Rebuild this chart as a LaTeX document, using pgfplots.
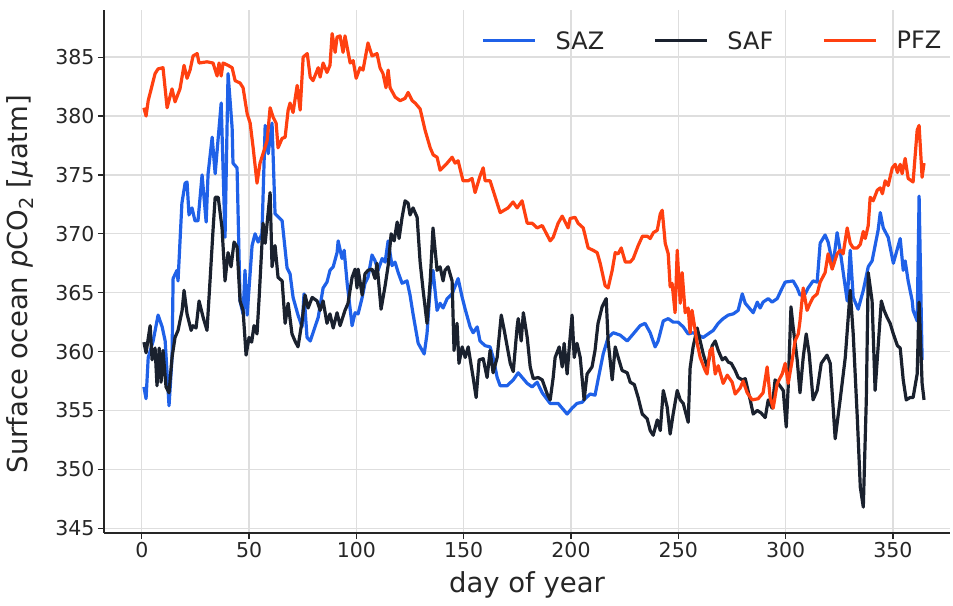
\documentclass[border=0pt]{standalone}
\usepackage{fontspec}
\setmainfont{DejaVu Sans}
\usepackage{pgfplots}
\pgfplotsset{compat=1.18}

\definecolor{sazblue}{RGB}{31,97,232}
\definecolor{safdark}{RGB}{26,33,46}
\definecolor{pfzred}{RGB}{255,64,16}
\definecolor{spine}{RGB}{38,38,38}
\definecolor{gridgray}{RGB}{222,222,222}

\pgfplotstableread{
day pco2
1 357.0
2 356.0
3 359.5
5.3 360.9
7.6 363.1
9.5 362.1
10.9 360.9
12.7 355.4
14.1 359.5
14.6 366.2
16.4 366.9
16.9 366.0
18.7 372.6
20.2 374.3
21.1 374.4
22 371.6
23.4 372.2
24.8 371.1
26.2 371.1
28.1 375.0
30 371.0
30.9 375.1
32.8 378.2
34.2 375.1
37 381.1
38.8 369.7
40.2 383.6
42.1 379.0
42.5 376.0
44.4 375.6
45.8 364.3
47.2 363.2
48.1 366.9
49.1 363.1
51.4 369.0
52.8 370.0
54.2 369.3
56 370.0
57.5 379.2
58.9 376.8
60.7 379.4
62.1 371.7
65.4 371.1
67.7 367.1
69.1 366.6
70.5 364.6
72.8 363.1
74.7 362.1
75.6 364.9
77 361.2
78.5 360.9
79.8 361.6
82.2 362.9
84.5 365.4
86.3 365.9
87.7 366.9
89.2 367.2
91 368.4
91.5 369.4
93.3 367.9
94.3 368.6
95.7 365.8
98 362.2
99.4 363.3
100.8 363.2
102.7 364.6
104 365.8
105.4 366.3
107.3 368.2
108.7 367.7
110.1 366.9
112 367.9
113.4 367.6
114.8 369.4
116.6 367.3
118 367.6
119.5 366.7
121.3 365.8
123.6 366.0
125 364.8
126.4 363.2
128.8 360.7
131.6 359.8
132.9 361.5
134.4 365.4
135.7 366.9
137.6 363.5
139 364.1
140.4 363.7
142.3 364.5
144.6 364.9
147.4 366.2
149.3 364.6
150.7 363.6
153 362.1
154.4 361.6
156.3 362.1
157.6 360.9
160 360.5
162.3 360.4
163.7 359.5
165.6 357.8
167 357.1
170.2 357.1
173.1 357.6
175.4 358.2
179.6 357.3
181.9 357.0
184.2 357.4
186.6 356.5
190.3 355.6
194 355.6
198.2 354.7
200.5 355.2
202.8 355.6
205.2 355.7
206.6 356.0
208.9 356.4
211.2 356.3
212.6 357.6
215 359.8
217.3 361.2
219.7 361.6
222.9 361.4
226.2 360.9
229 361.5
232.2 362.2
234.5 362.4
236.9 361.6
239.2 360.4
240.6 360.9
243 362.6
245.3 362.8
247.6 362.5
249.9 362.5
252.3 362.1
254.6 361.5
256.9 361.6
259.3 361.4
261.6 361.2
263.9 361.5
266.3 361.8
268.6 362.4
270.9 362.8
273.3 363.1
275.6 363.2
277.9 363.5
279.8 364.9
281.2 364.1
284.9 363.3
286.8 364.2
288.1 363.7
289.5 364.2
291.9 364.5
293.7 364.2
296.1 364.5
298.4 365.4
299.8 365.9
303.5 366.0
305.4 365.4
306.7 364.8
309.1 364.9
310.5 365.4
312.8 366.0
314.7 365.9
316.1 369.2
318.4 369.9
319.8 369.3
322.1 367.3
324 370.1
325.4 368.6
328.7 364.3
330.1 368.6
331.5 364.6
333.8 363.6
336.2 365.2
338.5 367.2
340.3 367.7
343.1 370.3
344.1 371.8
345.5 370.5
347.8 369.7
350.2 367.5
353.4 369.6
354.8 366.9
355.7 367.7
357.1 366.0
359 364.3
359.4 363.5
361.3 362.6
362.2 373.2
363.6 359.3
}\saz

\pgfplotstableread{
day pco2
1 360.8
2 359.9
3.9 362.2
4.8 359.3
6.2 360.3
7.1 357.1
8.1 360.3
9 357.4
9.9 360.1
11.3 357.0
12.7 356.5
14.1 359.5
15.5 361.2
16.9 361.8
18.8 363.5
19.7 365.2
21.1 363.2
23 361.8
23.9 362.2
25.3 362.0
26.7 364.3
28.6 362.9
30.4 361.8
31.8 366.0
33.2 370.3
34.2 373.1
35.6 373.1
37.4 370.5
38.8 366.0
40.2 368.4
41.6 367.2
43 369.3
44.4 368.9
45.8 364.3
47.2 363.5
48.6 359.7
50 361.2
51.2 360.8
52.3 362.2
53.7 361.5
54.7 364.6
56.5 370.9
57.5 369.2
59.8 373.5
60.7 367.2
62.1 369.0
63.5 366.3
65.4 366.0
66.8 362.4
68.2 364.1
70.0 361.5
71.4 360.9
72.8 360.4
74.7 362.6
76.1 364.8
77.5 363.7
79.4 364.6
81.7 364.3
83.1 363.5
84.5 364.3
86.3 362.4
87.7 363.2
89.2 362.0
91 363.3
92.4 362.2
94.7 363.5
96.1 364.1
98 366.3
99.4 367.0
100.3 365.4
100.8 367.0
102.7 364.8
104 366.6
105.4 366.9
107.3 367.0
108.7 366.2
109.6 367.5
111.5 363.6
113.4 365.6
114.8 367.3
116.2 370.0
117.6 369.4
119 371.0
119.9 369.6
121.3 371.4
122.7 372.8
124.1 372.6
125 371.6
126.4 372.2
128.3 371.4
129.7 367.6
131.1 365.2
132.9 362.4
134.4 366.0
135.7 370.5
137.6 366.9
139 367.2
140.4 366.0
141.3 366.9
142.7 367.2
144.6 366.0
145.5 360.1
146.9 362.4
147.8 359.0
149.3 360.4
150.7 359.5
152.1 360.4
154.4 357.8
155.8 356.1
157.2 359.3
159.1 359.4
160.9 357.8
162.3 360.1
163.7 358.2
165.6 359.5
167.5 363.1
168.9 361.8
170.2 360.5
171.7 359.0
173.1 358.3
174.9 362.1
175.4 362.8
176.8 360.9
177.8 363.3
179.6 361.2
181 358.7
182.4 357.7
184.7 357.8
186.6 357.6
188.9 356.4
190.3 355.9
191.7 357.8
192.6 359.5
194.5 360.4
195.9 358.7
196.8 360.7
198.2 358.1
199.2 360.4
200.5 363.1
201.5 359.5
202.8 360.7
204.3 359.5
206.1 355.9
207.5 358.1
209.8 358.7
211.2 360.1
212.6 362.4
214.5 363.8
216.4 364.5
217.3 360.9
219.2 357.6
220.6 360.4
222 359.5
223.8 358.4
226.2 358.2
227.6 357.4
229.5 357.2
231.3 356.1
233.2 354.7
235.5 354.3
236.9 353.3
238.3 352.9
240.2 354.2
241.6 353.3
243 356.7
244.8 355.3
246.2 353.0
247.6 354.7
249.5 356.7
250.9 355.9
252.3 355.6
254.6 354.0
255.5 358.6
256.9 360.4
258.8 362.0
260.2 360.9
261.6 359.8
263.4 358.7
265.8 360.5
267.2 360.9
268.6 360.1
270.5 359.3
271.9 359.5
273.3 359.1
274.7 359.0
276.5 358.4
277.9 357.8
279.8 357.6
281.2 357.7
283.5 355.9
284.9 354.7
286.8 355.0
288.5 354.8
290.5 354.4
291.9 355.9
293.7 355.2
295.1 357.6
296.5 357.3
298.9 356.7
300.3 353.6
301.2 357.0
302.5 363.8
303.5 362.1
305.4 359.3
306.7 356.5
308.2 359.5
309.6 361.5
311 359.8
312.8 355.9
314.7 356.7
316.6 359.0
319.3 359.7
320.8 359.0
323.1 352.6
325.4 355.9
327.8 359.5
330.1 365.2
331.5 361.5
333.4 354.4
334.8 348.5
336.2 346.8
337.6 355.9
338.5 366.7
340.3 364.3
341.7 356.7
343.1 360.4
344.6 364.3
345.9 363.5
347.3 362.9
348.7 362.4
350.2 361.5
352.1 360.5
353.4 360.3
354.8 357.6
356.2 355.9
358 356.1
359.4 356.1
361.3 358.1
362.2 364.2
363.6 357.3
364.5 355.9
}\saf

\pgfplotstableread{
day pco2
1 380.7
2 380.0
3 381.3
6.2 383.6
7.6 384.0
9.9 384.1
11.8 380.7
14.1 382.3
15.5 381.2
17.8 382.3
19.7 384.3
21.1 383.2
22.5 383.9
23.9 385.1
25.8 385.3
26.7 384.5
30.4 384.6
33.2 384.5
35.1 383.4
36 384.5
37 383.4
37.9 384.5
40.2 384.3
42.1 384.1
43.5 383.0
45.8 382.8
47.2 382.4
49.1 380.2
50.5 379.4
51.9 377.3
53.7 374.3
55.1 376.0
56.5 376.8
58.4 377.9
59.8 380.7
61.2 379.9
62.6 379.4
63.5 377.3
65.4 378.1
66.8 378.2
68.2 380.5
69.1 381.1
70.5 380.3
72.4 382.6
73.8 380.5
75.2 385.0
77.1 385.3
78.5 383.3
79.8 383.0
82.2 384.1
83.1 383.3
84.5 384.5
86.3 383.7
87.7 384.3
88.7 387.0
90.1 385.4
91.0 386.7
92.4 386.8
93.8 385.4
94.7 386.8
97.1 384.5
98.5 384.7
99.9 383.2
101.7 384.1
103.1 383.9
105.4 386.2
107.3 385.1
109.6 385.3
111.0 384.1
112.4 383.6
113.8 382.4
114.8 383.9
115.7 382.4
118.1 381.6
120.4 381.3
122.7 381.5
124.1 382.0
126 381.3
127.4 381.1
129.7 380.6
132 378.8
134.4 377.3
135.8 376.7
137.6 376.5
139 375.4
142.3 376.0
144.6 376.5
146 376.0
147.4 376.2
149.7 374.5
152.1 374.5
153.9 374.7
155.3 373.5
157.6 374.9
159.1 375.6
160 374.5
162.3 374.5
165.6 372.6
167 371.8
170.7 372.2
173 372.7
174.9 372.2
177.2 372.8
179.6 370.9
181.9 370.9
184.2 370.5
186.6 370.7
190.3 369.4
191.7 369.7
194 370.9
195.9 371.5
197.3 371.0
198.7 370.5
199.6 371.3
201.9 371.4
203.3 370.9
205.7 370.5
208 368.8
210.3 368.6
212.2 368.4
213.6 367.5
215.9 365.6
217.3 365.4
219.2 366.9
220.6 368.4
222 368.3
223.4 368.8
225.3 367.6
227.6 367.6
229 367.9
231.3 369.0
233.3 369.8
235.5 369.8
236.9 369.6
238.4 370.1
240.2 370.3
241.6 371.7
242.5 372.0
243.9 369.2
245.3 368.3
246.2 365.5
247.1 365.8
248.5 363.3
249.5 368.6
250.9 364.1
251.8 366.7
253.2 363.3
254.6 363.7
255.5 361.6
256.4 363.5
258.8 360.7
260.2 359.5
262.5 358.4
263.4 358.1
264.8 360.1
265.8 360.3
267.2 358.1
268.6 358.8
270.9 357.3
272.8 358.0
275.1 357.4
276.5 356.4
278.8 356.9
280.2 357.5
282.1 356.5
284.4 355.9
287.2 356.0
289.5 356.5
291.4 358.7
292.8 356.1
294.2 355.2
296.1 357.3
298.4 358.1
299.8 359.0
301.2 357.3
303 359.2
304.4 360.9
305.9 361.5
306.7 362.6
308.2 365.4
310 363.5
311.4 364.1
312.8 364.6
314.7 364.9
316.1 365.9
318.4 366.7
319.8 368.3
321.7 367.0
324 368.3
325.4 368.6
326.8 368.3
328.7 370.5
330.1 369.2
331.5 368.8
333.4 368.8
334.8 369.1
336.2 370.2
337.1 369.6
338.5 370.7
339.4 373.1
340.8 372.8
342.7 373.7
344.1 373.9
345.1 373.4
346.4 374.5
347.8 374.1
349.7 375.6
351.1 375.9
352.1 375.2
353.4 375.9
354.3 375.1
355.7 376.4
357.1 374.7
359.4 374.4
361.3 378.8
362.2 379.2
363.6 374.8
364.5 376.0
}\pfz

\begin{document}
\begin{tikzpicture}
\useasboundingbox (0,0) rectangle (953pt,605pt);
\begin{axis}[
  at={(104pt,72pt)}, anchor=south west,
  scale only axis, width=846pt, height=523pt,
  xmin=-17.6, xmax=376.6, ymin=344.6, ymax=389,
  xtick={0,50,...,350}, ytick={345,350,...,385},
  axis x line*=bottom, axis y line*=left,
  axis line style={-, line width=1.3pt, color=spine},
  tick align=outside, major tick length=6pt,
  tick style={line width=1.2pt, color=spine},
  xmajorgrids, ymajorgrids,
  grid style={line width=1.3pt, color=gridgray},
  /pgf/number format/assume math mode=true,
  tick label style={font=\fontsize{20.5}{24}\selectfont, color=spine},
  label style={font=\fontsize{27.5}{32}\selectfont, color=spine},
  xlabel={day of year},
  xlabel style={yshift=-7pt},
  ylabel={Surface ocean \textit{p}CO\textsubscript{2} [\textit{µ}atm]},
  ylabel style={at={(axis description cs:-0.119,0.476)}, anchor=north},
  legend columns=3,
  legend cell align=left,
  legend style={draw=none, fill=none, inner sep=0pt,
    at={(axis description cs:0.446,0.941)}, anchor=west,
    font=\fontsize{24}{28}\selectfont, text=spine,
    nodes={inner sep=1pt},
    /tikz/every odd column/.append style={column sep=18pt},
    /tikz/every even column/.append style={column sep=48pt}},
  legend image code/.code={\draw[#1] (0pt,0pt) -- (52pt,0pt);},
  every axis plot/.append style={line width=3.2pt, line join=round},
]
\addplot[sazblue] table[x=day, y=pco2] {\saz};
\addlegendentry{SAZ}
\addplot[safdark] table[x=day, y=pco2] {\saf};
\addlegendentry{SAF}
\addplot[pfzred] table[x=day, y=pco2] {\pfz};
\addlegendentry{PFZ}
\end{axis}
\end{tikzpicture}
\end{document}
